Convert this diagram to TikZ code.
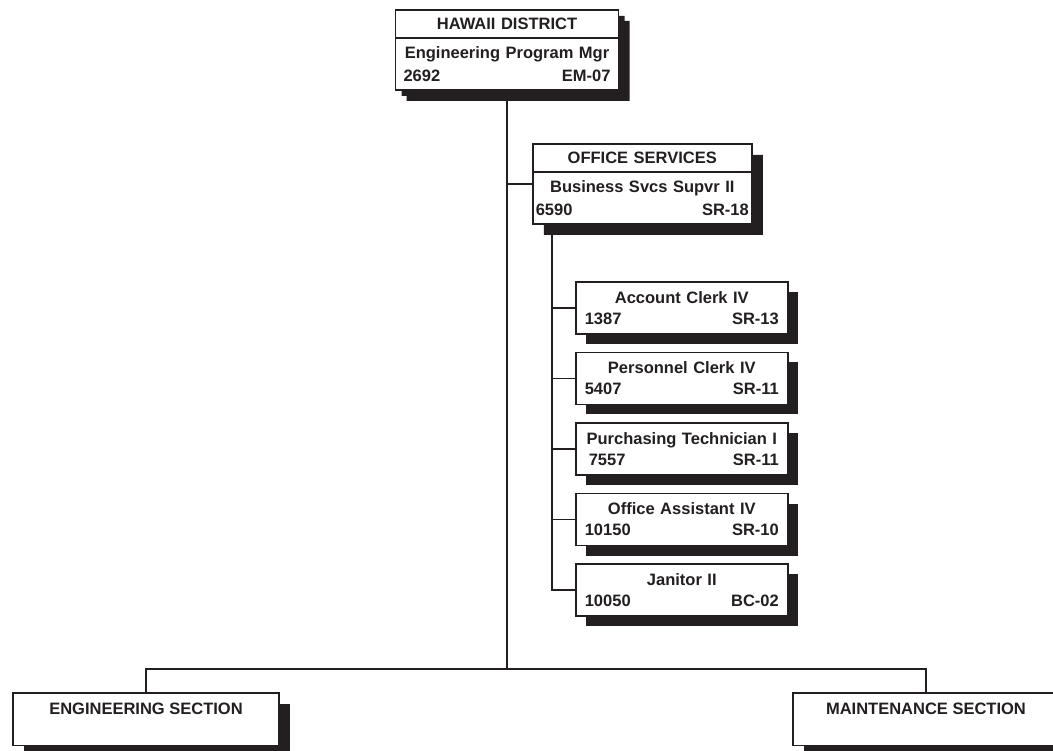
\documentclass[tikz,border=0pt]{standalone}
\usepackage{fontspec}
\setmainfont{Liberation Sans}
\usetikzlibrary{positioning,shadows,shapes.multipart}
\definecolor{ink}{HTML}{231F20}

\begin{document}
\begin{tikzpicture}[x=1pt, y=-1pt, color=ink, line width=1.6pt,
  every node/.style={font=\fontsize{16.5}{21}\selectfont\bfseries},
  boxshadow/.style={drop shadow={shadow xshift=#1, shadow yshift=-#1, fill=ink, opacity=1}},
  boxshadow/.default=10pt,
  unitbox/.style={rectangle split, rectangle split parts=2, draw, fill=white, align=center, inner ysep=7.5pt, font=\fontsize{16.5}{23}\selectfont\bfseries, boxshadow=11pt},
  clerkbox/.style={draw, fill=white, align=center, text width=194pt, inner xsep=9pt, minimum height=52pt, boxshadow},
  sectbox/.style={draw, fill=white, minimum width=266pt, inner ysep=10pt, text depth=21pt, boxshadow=11pt}]
\useasboundingbox (0,0) rectangle (1053,751);

\node[unitbox, boxshadow=6pt, text width=207pt, inner xsep=8pt, anchor=north] (hq) at (507,9)
  {HAWAII DISTRICT\nodepart{two}Engineering Program Mgr\\2692\hfill EM-07\par\vspace{10pt}};
\node[unitbox, text width=213pt, inner xsep=3pt, anchor=north west] (ofs) at (532,143)
  {OFFICE SERVICES\nodepart{two}Business Svcs Supvr II\\6590\hfill SR-18\par\vspace{12pt}};

% office staff
\node[clerkbox, anchor=north west] (acct) at (575,281) {Account Clerk IV\\1387\hfill SR-13};
\node[clerkbox, below=17pt of acct] (pers) {Personnel Clerk IV\\5407\hfill SR-11};
\node[clerkbox, below=17pt of pers] (purch) {Purchasing Technician I\\\hspace*{4pt}7557\hfill SR-11};
\node[clerkbox, below=17pt of purch] (offasst) {Office Assistant IV\\10150\hfill SR-10};
\node[clerkbox, below=17pt of offasst] (jan) {Janitor II\\10050\hfill BC-02};

% sections
\node[sectbox, anchor=north] (eng) at (146,692) {ENGINEERING SECTION};
\node[sectbox, anchor=north] (maint) at (926,692) {MAINTENANCE SECTION};

\coordinate (bus) at (507,669);
\coordinate (ofsdrop) at ([xshift=20pt]ofs.south west);
\draw (hq.south) -- (bus);
\draw (hq.south |- ofs.west) -- (ofs.west);
\draw (ofsdrop) |- (jan.west);
\draw (ofsdrop |- acct.west) -- (acct.west);
\draw (ofsdrop |- pers.west) -- (pers.west);
\draw (ofsdrop |- purch.west) -- (purch.west);
\draw (ofsdrop |- offasst.west) -- (offasst.west);
\draw (eng.north) |- (bus) -| (maint.north);
\end{tikzpicture}
\end{document}
